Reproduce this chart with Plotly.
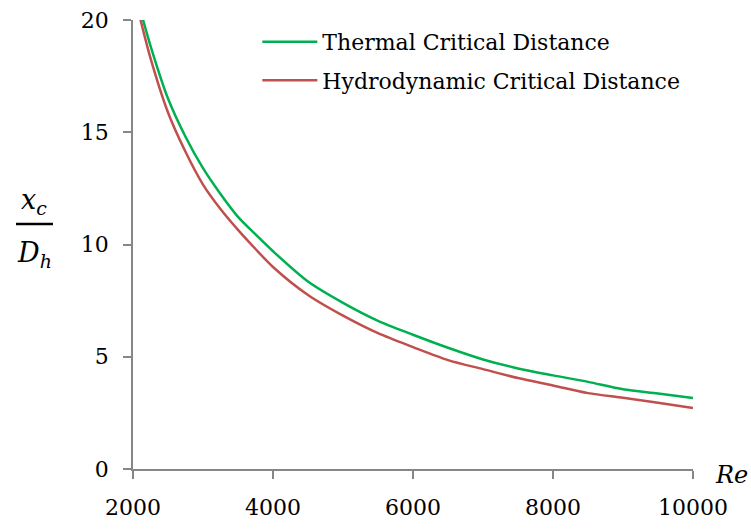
import plotly.graph_objects as go

# Reynolds numbers and critical entry lengths (x_c / D_h)
re_values = [2100, 2250, 2500, 2750, 3000, 3250, 3500, 3750, 4000, 4500, 5000,
             5500, 6000, 6500, 7000, 7500, 8000, 8500, 9000, 9500, 10000]
thermal = [20.5, 18.85, 16.5, 14.8, 13.4, 12.25, 11.23, 10.45, 9.7, 8.35, 7.4,
           6.6, 5.98, 5.4, 4.88, 4.48, 4.17, 3.88, 3.55, 3.36, 3.16]
hydrodynamic = [20.1, 18.3, 15.88, 14.13, 12.67, 11.58, 10.65, 9.8, 9.0, 7.75, 6.83,
                6.05, 5.43, 4.85, 4.45, 4.05, 3.72, 3.38, 3.17, 2.95, 2.72]

x_ticks = [2000, 4000, 6000, 8000, 10000]
y_ticks = [0, 5, 10, 15, 20]

FONT = "DejaVu Serif"
AXIS_COLOR = "#868686"

fig = go.Figure()
fig.add_trace(go.Scatter(
    x=re_values, y=thermal, mode="lines", name="Thermal Critical Distance",
    line=dict(color="#00B050", width=2.5, shape="spline", smoothing=0.8),
    legendgroup="t",
))
fig.add_trace(go.Scatter(
    x=re_values, y=hydrodynamic, mode="lines", name="Hydrodynamic Critical Distance",
    line=dict(color="#C0504D", width=2.5, shape="spline", smoothing=0.8),
    legendgroup="h",
))

axis_common = dict(
    showline=True, linecolor=AXIS_COLOR, linewidth=1.5,
    ticks="outside", ticklen=8, tickwidth=1.5, tickcolor=AXIS_COLOR,
    showgrid=False, zeroline=False, automargin=False,
    tickfont=dict(family=FONT, size=22, color="#000000"),
)

fig.update_xaxes(range=[2000, 10000], tickvals=x_ticks,
                 ticktext=[str(v) for v in x_ticks], ticklabelstandoff=10,
                 **axis_common)
fig.update_yaxes(range=[0, 20], tickvals=y_ticks,
                 ticktext=[str(v) for v in y_ticks], ticklabelstandoff=10,
                 **axis_common)

# Axis titles: fraction x_c / D_h on the left, Re at the end of the x axis
fig.add_annotation(xref="paper", yref="paper", x=-0.176, y=0.595,
                   text="<i>x<sub>c</sub></i>", showarrow=False,
                   xanchor="center", yanchor="middle",
                   font=dict(family=FONT, size=27, color="#000000"))
fig.add_annotation(xref="paper", yref="paper", x=-0.176, y=0.478,
                   text="<i>D<sub>h</sub></i>", showarrow=False,
                   xanchor="center", yanchor="middle",
                   font=dict(family=FONT, size=27, color="#000000"))
fig.add_shape(type="line", xref="paper", yref="paper",
              x0=-0.2089, x1=-0.1429, y0=0.5456, y1=0.5456,
              line=dict(color="#000000", width=2.5))
fig.add_annotation(xref="paper", yref="paper", x=1.0696, y=-0.0144,
                   text="<i>Re</i>", showarrow=False,
                   xanchor="center", yanchor="middle",
                   font=dict(family=FONT, size=24, color="#000000"))

fig.update_layout(
    width=751, height=529,
    margin=dict(l=133, r=58, t=19.5, b=59.5),
    paper_bgcolor="white", plot_bgcolor="white",
    showlegend=True,
    legend=dict(x=0.222, y=0.998, xanchor="left", yanchor="top",
                font=dict(family=FONT, size=22, color="#000000"),
                bgcolor="rgba(0,0,0,0)", itemwidth=55,
                traceorder="grouped", tracegroupgap=7),
)

fig.write_html("out.html")
